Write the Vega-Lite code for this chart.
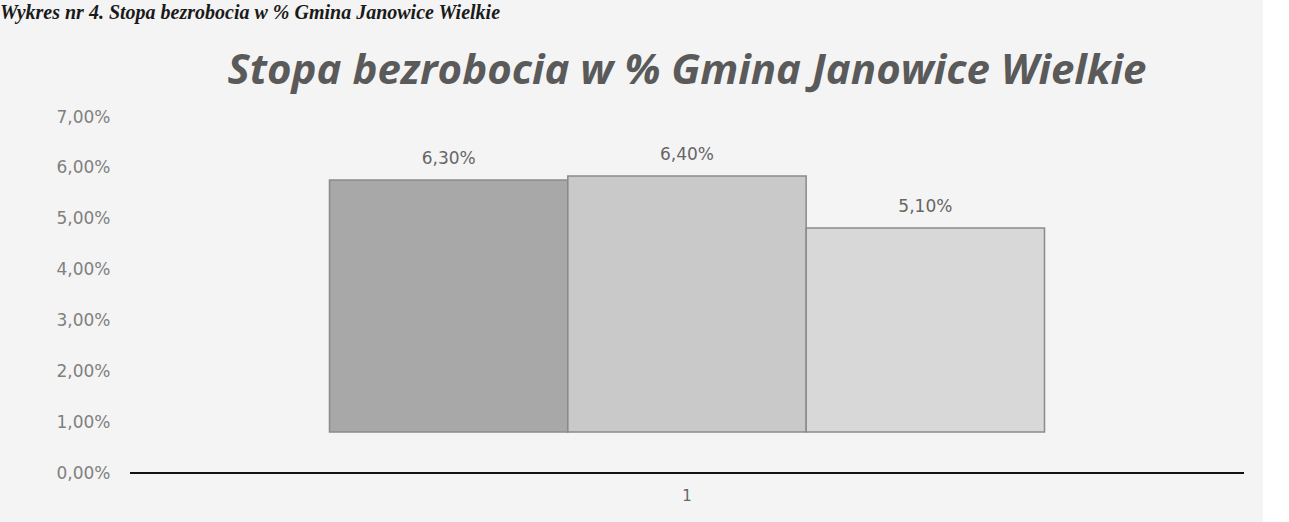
{
  "$schema": "https://vega.github.io/schema/vega-lite/v6.json",
  "background": "#f4f4f4",
  "autosize": {"type": "pad"},
  "padding": {"left": 0, "top": 3, "right": 18, "bottom": 20},
  "config": {
    "locale": {"number": {"decimal": ",", "thousands": " ", "grouping": [3], "currency": ["", " zł"]}},
    "view": {"stroke": null},
    "font": "DejaVu Sans"
  },
  "title": {
    "text": "Wykres nr 4. Stopa bezrobocia w % Gmina Janowice Wielkie",
    "anchor": "start",
    "frame": "bounds",
    "font": "Liberation Serif",
    "fontStyle": "italic",
    "fontWeight": "bold",
    "fontSize": 20,
    "color": "#1a1a1a",
    "offset": 27
  },
  "datasets": {
    "rates": [
      {"cat": "1", "series": "A", "value": 0.063},
      {"cat": "1", "series": "B", "value": 0.064},
      {"cat": "1", "series": "C", "value": 0.051}
    ]
  },
  "vconcat": [
    {
      "width": 1114,
      "height": 356,
      "title": {
        "text": "Stopa bezrobocia  w % Gmina Janowice Wielkie",
        "font": "Open Sans",
        "fontStyle": "italic",
        "fontWeight": "bold",
        "fontSize": 42,
        "color": "#5a5a5a",
        "anchor": "middle",
        "offset": 15
      },
      "layer": [
        {
          "data": {"values": [{"base": 0}]},
          "mark": {"type": "rule", "color": "#111111", "strokeWidth": 2},
          "encoding": {
            "y": {
              "field": "base",
              "type": "quantitative",
              "scale": {"domain": [0, 0.07], "nice": false},
              "axis": {
                "values": [0, 0.01, 0.02, 0.03, 0.04, 0.05, 0.06, 0.07],
                "format": ".2%",
                "title": null,
                "ticks": false,
                "domain": false,
                "grid": false,
                "labelPadding": 20,
                "labelFontSize": 17,
                "labelFont": "DejaVu Sans",
                "labelColor": "#808080",
                "minExtent": 130
              }
            }
          }
        },
        {
          "data": {"name": "rates"},
          "encoding": {
            "x": {
              "field": "cat",
              "type": "nominal",
              "scale": {"paddingInner": 0, "paddingOuter": 0.279},
              "axis": {
                "title": null,
                "labelAngle": 0,
                "domain": false,
                "ticks": false,
                "labelPadding": 15,
                "labelFontSize": 15,
                "labelColor": "#666666"
              }
            },
            "xOffset": {"field": "series", "type": "nominal", "scale": {"paddingInner": 0, "paddingOuter": 0}},
            "y": {
              "field": "value",
              "type": "quantitative",
              "scale": {"domain": [-0.01025, 0.07875], "nice": false, "zero": false},
              "axis": null
            }
          },
          "layer": [
            {
              "mark": {"type": "bar", "stroke": "#8a8a8a", "strokeWidth": 1.5},
              "encoding": {
                "y2": {"datum": 0},
                "color": {
                  "field": "series",
                  "type": "nominal",
                  "scale": {"range": ["#a8a8a8", "#c9c9c9", "#d8d8d8"]},
                  "legend": null
                }
              }
            },
            {
              "mark": {"type": "text", "dy": -21, "fontSize": 17, "color": "#666666"},
              "encoding": {"text": {"field": "value", "type": "quantitative", "format": ".2%"}}
            }
          ]
        }
      ],
      "resolve": {"scale": {"y": "independent"}}
    }
  ]
}
